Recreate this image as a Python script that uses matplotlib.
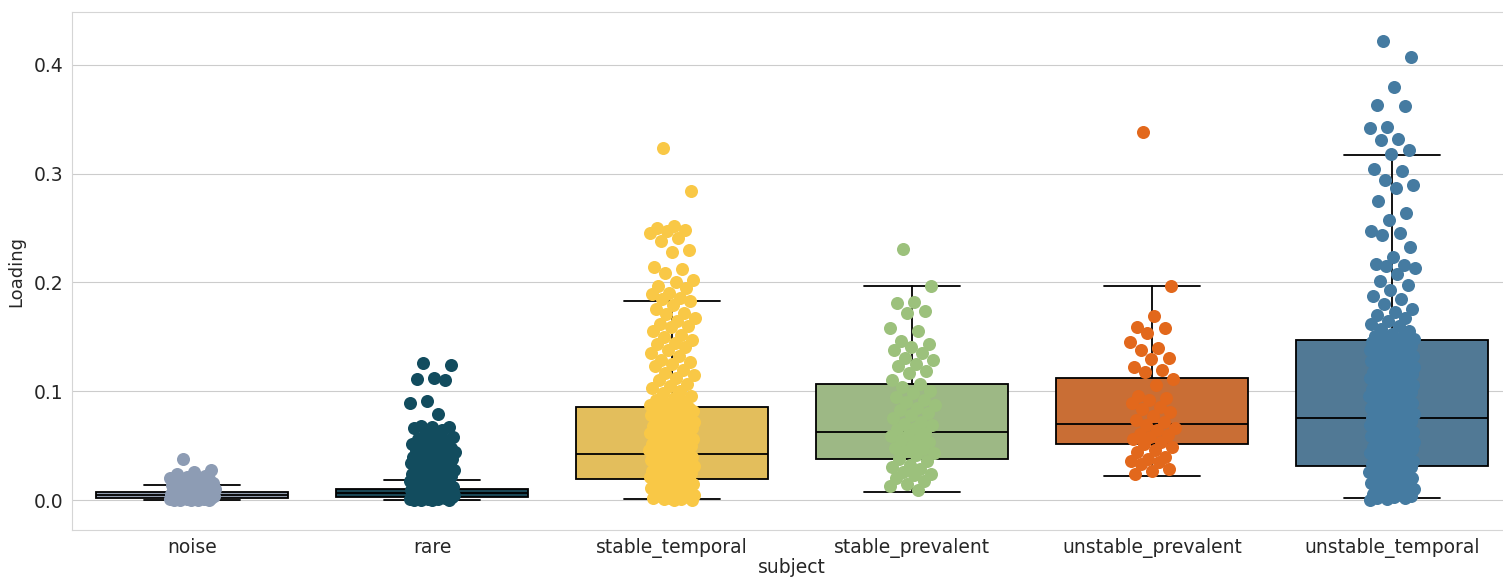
import colorsys

import matplotlib
matplotlib.use("Agg")
import matplotlib.colors as mcolors
import numpy as np
import seaborn as sns
from matplotlib import pyplot as plt

# categories and colours
subjects = ["noise", "rare", "stable_temporal", "stable_prevalent",
            "unstable_prevalent", "unstable_temporal"]
point_colors = ["#8d9cb4", "#124c5e", "#f9c846", "#9cc17c", "#e2681c", "#457ba1"]

# box summaries
q1 = [0.0016, 0.0030, 0.0194, 0.0374, 0.0516, 0.0310]
medians = [0.0045, 0.0065, 0.0420, 0.0625, 0.0703, 0.0752]
q3 = [0.0071, 0.0100, 0.0857, 0.1069, 0.1118, 0.1467]
whisker_low = [0.0000, 0.0000, 0.0010, 0.0077, 0.0224, 0.0022]
whisker_high = [0.0135, 0.0187, 0.1828, 0.1970, 0.1963, 0.3174]

# strip points (loadings)
noise_vals = [
    0.038, 0.028, 0.026, 0.024, 0.022, 0.021, 0.020, 0.020, 0.019, 0.019,
    0.018, 0.018, 0.017, 0.017, 0.016, 0.016, 0.015, 0.015, 0.014, 0.014,
    0.013, 0.013, 0.012, 0.012, 0.011, 0.011, 0.010, 0.010, 0.010, 0.009,
    0.009, 0.009, 0.008, 0.008, 0.008, 0.007, 0.007, 0.007, 0.006, 0.006,
    0.006, 0.005, 0.005, 0.005, 0.005, 0.004, 0.004, 0.004, 0.004, 0.003,
    0.003, 0.003, 0.003, 0.002, 0.002, 0.002, 0.002, 0.001, 0.001, 0.001,
    0.001, 0.001, 0.000, 0.000, 0.000, 0.000, 0.000,
]
rare_vals = [
    0.126, 0.124, 0.112, 0.111, 0.110, 0.091, 0.089, 0.079, 0.068, 0.067,
    0.067, 0.066, 0.064, 0.061, 0.058, 0.057, 0.056, 0.055, 0.054, 0.052,
    0.050, 0.049, 0.048, 0.047, 0.046, 0.045, 0.045, 0.044, 0.043, 0.042,
    0.042, 0.041, 0.040, 0.039, 0.039, 0.038, 0.037, 0.036, 0.036, 0.035,
    0.034, 0.033, 0.033, 0.032, 0.031, 0.030, 0.030, 0.029, 0.028, 0.027,
    0.027, 0.026, 0.025, 0.024, 0.024, 0.023, 0.022, 0.021, 0.021, 0.020,
    0.019, 0.018, 0.018, 0.017, 0.016, 0.015, 0.015, 0.014, 0.013, 0.012,
    0.012, 0.011, 0.010, 0.010, 0.009, 0.009, 0.008, 0.008, 0.007, 0.007,
    0.006, 0.006, 0.005, 0.005, 0.005, 0.004, 0.004, 0.004, 0.003, 0.003,
    0.003, 0.002, 0.002, 0.002, 0.001, 0.001, 0.001, 0.000, 0.000, 0.000,
    0.000,
]
stable_temporal_vals = [
    0.324, 0.284, 0.252, 0.250, 0.248, 0.247, 0.245, 0.241, 0.238, 0.230,
    0.228, 0.214, 0.212, 0.209, 0.202, 0.200, 0.197, 0.195, 0.190, 0.189,
    0.186, 0.185, 0.183, 0.179, 0.176, 0.172, 0.171, 0.167, 0.165, 0.162,
    0.160, 0.159, 0.155, 0.152, 0.150, 0.147, 0.144, 0.143, 0.141, 0.138,
    0.135, 0.132, 0.129, 0.127, 0.125, 0.123, 0.120, 0.117, 0.115, 0.112,
    0.110, 0.107, 0.105, 0.103, 0.100, 0.098, 0.096, 0.094, 0.092, 0.090,
    0.088, 0.087, 0.087, 0.086, 0.085, 0.085, 0.084, 0.083, 0.082, 0.082,
    0.081, 0.080, 0.079, 0.079, 0.078, 0.077, 0.076, 0.076, 0.075, 0.074,
    0.073, 0.073, 0.072, 0.071, 0.070, 0.070, 0.069, 0.068, 0.067, 0.067,
    0.066, 0.065, 0.064, 0.064, 0.063, 0.062, 0.061, 0.061, 0.060, 0.059,
    0.058, 0.058, 0.057, 0.056, 0.055, 0.055, 0.054, 0.053, 0.052, 0.052,
    0.051, 0.050, 0.049, 0.049, 0.048, 0.047, 0.046, 0.046, 0.045, 0.044,
    0.043, 0.043, 0.042, 0.041, 0.040, 0.040, 0.039, 0.038, 0.037, 0.037,
    0.036, 0.035, 0.034, 0.034, 0.033, 0.032, 0.031, 0.031, 0.030, 0.029,
    0.028, 0.028, 0.027, 0.026, 0.025, 0.025, 0.024, 0.023, 0.022, 0.022,
    0.021, 0.020, 0.019, 0.019, 0.018, 0.017, 0.016, 0.016, 0.015, 0.014,
    0.013, 0.013, 0.012, 0.011, 0.010, 0.010, 0.009, 0.008, 0.007, 0.007,
    0.006, 0.005, 0.004, 0.004, 0.003, 0.002, 0.002, 0.001, 0.001, 0.000,
    0.000,
]
stable_prevalent_vals = [
    0.231, 0.197, 0.182, 0.181, 0.174, 0.172, 0.158, 0.155, 0.146, 0.143,
    0.141, 0.138, 0.135, 0.131, 0.129, 0.125, 0.123, 0.119, 0.117, 0.110,
    0.107, 0.104, 0.100, 0.098, 0.095, 0.092, 0.090, 0.087, 0.085, 0.083,
    0.080, 0.078, 0.075, 0.072, 0.070, 0.069, 0.066, 0.065, 0.062, 0.060,
    0.059, 0.056, 0.055, 0.053, 0.050, 0.048, 0.047, 0.045, 0.043, 0.041,
    0.038, 0.036, 0.032, 0.030, 0.029, 0.026, 0.024, 0.023, 0.020, 0.018,
    0.015, 0.013, 0.009,
]
unstable_prevalent_vals = [
    0.338, 0.197, 0.169, 0.159, 0.158, 0.154, 0.145, 0.140, 0.138, 0.131,
    0.130, 0.122, 0.120, 0.118, 0.111, 0.106, 0.096, 0.094, 0.092, 0.089,
    0.086, 0.084, 0.081, 0.077, 0.074, 0.072, 0.069, 0.066, 0.064, 0.061,
    0.060, 0.058, 0.056, 0.053, 0.052, 0.049, 0.046, 0.044, 0.040, 0.038,
    0.036, 0.035, 0.033, 0.029, 0.027, 0.024,
]
unstable_temporal_vals = [
    0.422, 0.407, 0.380, 0.363, 0.362, 0.343, 0.342, 0.332, 0.331, 0.322,
    0.318, 0.304, 0.302, 0.294, 0.290, 0.287, 0.275, 0.264, 0.257, 0.247,
    0.245, 0.244, 0.233, 0.223, 0.217, 0.216, 0.215, 0.213, 0.208, 0.201,
    0.198, 0.193, 0.188, 0.185, 0.180, 0.176, 0.173, 0.170, 0.167, 0.165,
    0.162, 0.160, 0.157, 0.155, 0.153, 0.151, 0.150, 0.149, 0.148, 0.148,
    0.147, 0.146, 0.145, 0.145, 0.144, 0.143, 0.142, 0.141, 0.141, 0.140,
    0.139, 0.138, 0.138, 0.137, 0.136, 0.135, 0.134, 0.134, 0.133, 0.132,
    0.131, 0.131, 0.130, 0.129, 0.128, 0.127, 0.127, 0.126, 0.125, 0.124,
    0.124, 0.123, 0.122, 0.121, 0.120, 0.120, 0.119, 0.118, 0.117, 0.117,
    0.116, 0.115, 0.114, 0.113, 0.113, 0.112, 0.111, 0.110, 0.110, 0.109,
    0.108, 0.107, 0.106, 0.106, 0.105, 0.104, 0.103, 0.103, 0.102, 0.101,
    0.100, 0.099, 0.099, 0.098, 0.097, 0.096, 0.096, 0.095, 0.094, 0.093,
    0.092, 0.092, 0.091, 0.090, 0.089, 0.089, 0.088, 0.087, 0.086, 0.085,
    0.085, 0.084, 0.083, 0.082, 0.082, 0.081, 0.080, 0.079, 0.078, 0.078,
    0.077, 0.076, 0.075, 0.075, 0.074, 0.073, 0.072, 0.071, 0.071, 0.070,
    0.069, 0.068, 0.068, 0.067, 0.066, 0.065, 0.064, 0.064, 0.063, 0.062,
    0.061, 0.061, 0.060, 0.059, 0.058, 0.057, 0.057, 0.056, 0.055, 0.054,
    0.054, 0.053, 0.052, 0.051, 0.050, 0.050, 0.049, 0.048, 0.047, 0.047,
    0.046, 0.045, 0.044, 0.043, 0.043, 0.042, 0.041, 0.040, 0.040, 0.039,
    0.038, 0.037, 0.036, 0.036, 0.035, 0.034, 0.033, 0.033, 0.032, 0.031,
    0.030, 0.029, 0.029, 0.028, 0.027, 0.026, 0.026, 0.025, 0.024, 0.023,
    0.022, 0.022, 0.021, 0.020, 0.019, 0.019, 0.018, 0.017, 0.016, 0.015,
    0.015, 0.014, 0.013, 0.012, 0.012, 0.011, 0.010, 0.009, 0.008, 0.008,
    0.007, 0.006, 0.005, 0.005, 0.004, 0.003, 0.002, 0.002, 0.001, 0.000,
]
strip_values = [noise_vals, rare_vals, stable_temporal_vals,
                stable_prevalent_vals, unstable_prevalent_vals,
                unstable_temporal_vals]


def desaturate(color, prop):
    # same idea as seaborn's box saturation
    r, g, b = mcolors.to_rgb(color)
    h, l, s = colorsys.rgb_to_hls(r, g, b)
    return colorsys.hls_to_rgb(h, l, s * prop)


sns.set_style("whitegrid")
plt.rcParams["font.family"] = ["DejaVu Sans"]

fig = plt.figure(figsize=(15.03, 5.79), dpi=100)
ax = fig.add_axes([0.0479, 0.0846, 0.958, 0.8946])

stats = [
    dict(med=medians[i], q1=q1[i], q3=q3[i], whislo=whisker_low[i],
         whishi=whisker_high[i], fliers=[], label=subjects[i])
    for i in range(len(subjects))
]
positions = np.arange(len(subjects))
bp = ax.bxp(
    stats, positions=positions, widths=0.8, capwidths=0.4,
    patch_artist=True, showfliers=False,
    boxprops=dict(linewidth=1.3, edgecolor="black"),
    medianprops=dict(color="black", linewidth=1.3),
    whiskerprops=dict(color="black", linewidth=1.3),
    capprops=dict(color="black", linewidth=1.3),
)
for patch, col in zip(bp["boxes"], point_colors):
    patch.set_facecolor(desaturate(col, 0.75))

# strip points, deterministic jitter within +-0.1
for i, (vals, col) in enumerate(zip(strip_values, point_colors)):
    idx = np.arange(len(vals))
    offs = 0.095 * (2 * ((idx * 0.6180339887 + 0.31) % 1.0) - 1)
    ax.scatter(i + offs, vals, s=88, color=col, linewidths=0, zorder=3)

ax.set_xlim(-0.5, len(subjects) - 0.5)
ax.set_ylim(-0.0275, 0.4485)
ax.set_yticks([0.0, 0.1, 0.2, 0.3, 0.4])
ax.set_xticks(positions)
ax.set_xticklabels(subjects)
ax.xaxis.grid(False)
ax.tick_params(axis="both", labelsize=13.5, colors="#262626", length=0, pad=6)
ax.set_ylabel("Loading", fontsize=13, color="#262626", labelpad=6)
ax.set_xlabel("subject", fontsize=13.5, color="#262626", labelpad=0)
for sp in ax.spines.values():
    sp.set_color("#d5d5d5")

fig.savefig("out.png", dpi=100)
